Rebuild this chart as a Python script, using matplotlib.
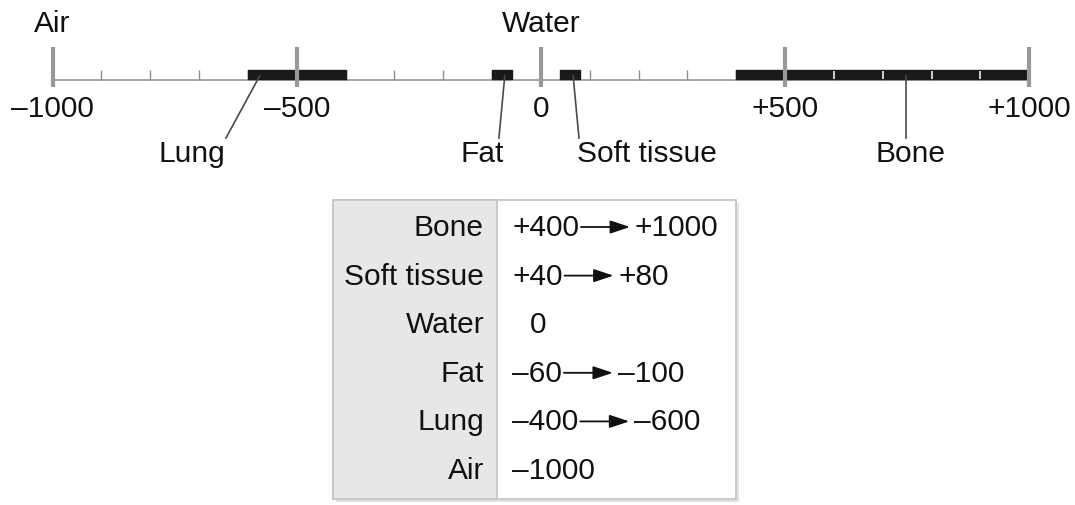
"""
CT number (Hounsfield unit) scale with tissue ranges and a summary table.
"""

import matplotlib.pyplot as plt

# Tissue ranges in HU (single value -> no range)
TISSUES = ["Bone", "Soft tissue", "Water", "Fat", "Lung", "Air"]
HU_FROM = [400, 40, 0, -60, -400, -1000]
HU_TO = [1000, 80, None, -100, -600, None]

MAJOR_TICKS = [-1000, -500, 0, 500, 1000]
MINOR_STEP = 100

# Where each leader line touches the bar / ends above the label (HU)
LEADERS = {
    "Bone": (748, 748, 757, "center"),
    "Soft tissue": (66, 78, 74, "left"),
    "Fat": (-74, -86, -121, "center"),
    "Lung": (-576, -645, -715, "center"),
}

FONT = ["Liberation Sans", "DejaVu Sans"]
FS = 21.5
INK = "#111111"
TICK_GREY = "#999999"
BAR = "#1a1a1a"

W, H = 1075, 506


def fmt_hu(v: int) -> str:
    if v > 0:
        return f"+{v}"
    if v < 0:
        return f"\u2013{abs(v)}"
    return "0"


plt.rcParams["font.family"] = FONT

fig = plt.figure(figsize=(W / 100, H / 100), dpi=100)
fig.patch.set_facecolor("white")

# Scale axes: x in HU, y in pixels (top = 0)
ax = fig.add_axes([0, 0, 1, 1])
px_per_hu = 0.4883
x0 = 540.9
ax.set_xlim(-x0 / px_per_hu, (W - x0) / px_per_hu)
ax.set_ylim(H, 0)
ax.set_axis_off()

LINE_Y = 81
BAR_TOP, BAR_H = 71, 9

# baseline
ax.plot([MAJOR_TICKS[0], MAJOR_TICKS[-1]], [LINE_Y, LINE_Y],
        color="#a0a0a0", lw=1.3, zorder=1, solid_capstyle="butt")

# minor ticks
minor = [v for v in range(-1000, 1001, MINOR_STEP) if v not in MAJOR_TICKS]
ax.vlines(minor, BAR_TOP, LINE_Y, color="#8f8f8f", lw=1.0, zorder=1)

# tissue bars
for name, lo, hi in zip(TISSUES, HU_FROM, HU_TO):
    if hi is None:
        continue
    a, b = min(lo, hi), max(lo, hi)
    ax.broken_barh([(a, b - a)], (BAR_TOP, BAR_H),
                   facecolors=BAR, edgecolors=BAR, lw=1.0, zorder=2)
    inner = [v for v in minor if a < v < b]
    if inner:
        ax.vlines(inner, BAR_TOP + 0.5, BAR_TOP + BAR_H - 0.5,
                  color="#f0f0f0", lw=1.2, zorder=3)

# major ticks
ax.vlines(MAJOR_TICKS, 48, 88, color=TICK_GREY, lw=3.0, zorder=4)
for v in MAJOR_TICKS:
    ax.text(v, 109, fmt_hu(v), ha="center", va="center",
            fontsize=FS, color=INK)

# single-value tissues labelled above the scale
for name, lo, hi in zip(TISSUES, HU_FROM, HU_TO):
    if hi is None:
        ax.text(lo, 24, name, ha="center", va="center",
                fontsize=FS, color=INK)

# leader lines and range-tissue labels
for name, (x_top, x_bot, x_txt, ha) in LEADERS.items():
    ax.plot([x_top, x_bot], [77, 139], color="#4a4a4a", lw=1.2, zorder=5)
    ax.text(x_txt, 162, name, ha=ha, va="baseline",
            fontsize=FS, color=INK)

# Table axes in pixel coordinates
tx = fig.add_axes([0, 0, 1, 1])
tx.set_xlim(0, W)
tx.set_ylim(H, 0)
tx.set_axis_off()
tx.patch.set_alpha(0)

left, right, top, bottom, split = 333, 736, 201, 500, 497
tx.add_patch(plt.Rectangle((left + 3, top + 3), right - left, bottom - top,
                           facecolor="#e2e2e2", edgecolor="none", zorder=0))
tx.add_patch(plt.Rectangle((left, top), right - left, bottom - top,
                           facecolor="white", edgecolor="#c4c4c4",
                           lw=1.2, zorder=1))
tx.add_patch(plt.Rectangle((left, top), split - left, bottom - top,
                           facecolor="#e7e7e7", edgecolor="#c4c4c4",
                           lw=1.2, zorder=2))

row_y0, row_dy = 228, 48.6
renderer = fig.canvas.get_renderer()
for i, (name, lo, hi) in enumerate(zip(TISSUES, HU_FROM, HU_TO)):
    y = row_y0 + i * row_dy
    tx.text(484, y, name, ha="right", va="center", fontsize=FS,
            color=INK, zorder=3)
    if hi is None:
        xs = 530 if lo == 0 else 512
        tx.text(xs, y, fmt_hu(lo), ha="left", va="center", fontsize=FS,
                color=INK, zorder=3)
        continue
    t0 = tx.text(512, y, fmt_hu(lo), ha="left", va="center", fontsize=FS,
                 color=INK, zorder=3)
    x_end = t0.get_window_extent(renderer).x1
    a0, a1 = x_end + 2, x_end + 51
    tx.annotate("", xy=(a1, y), xytext=(a0, y),
                arrowprops=dict(arrowstyle="-|>,head_length=0.75,head_width=0.25",
                                color=INK, lw=1.3,
                                mutation_scale=16, shrinkA=0, shrinkB=0),
                zorder=3)
    tx.text(a1 + 5, y, fmt_hu(hi), ha="left", va="center", fontsize=FS,
            color=INK, zorder=3)

fig.savefig("out.png", dpi=100, facecolor="white")
